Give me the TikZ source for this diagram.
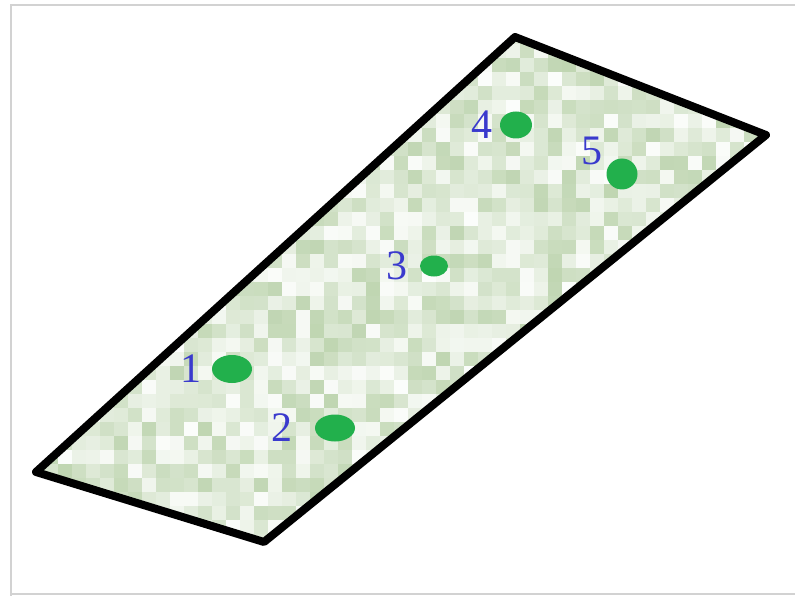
\documentclass[tikz,border=0pt]{standalone}
\usepackage{fontspec}
\setmainfont{Liberation Serif}
\usepackage{xcolor}
\usepackage{tikz}
\usetikzlibrary{shapes,positioning,calc}

\definecolor{moss}{RGB}{140,180,115}
\definecolor{dotgreen}{RGB}{34,176,76}
\definecolor{numblue}{RGB}{58,58,205}

\begin{document}
\begin{tikzpicture}[x=1pt, y=-1pt, every node/.style={font=\fontsize{42}{42}\selectfont}]
  \tikzset{
    plate/.style={draw=black, line width=8pt, line join=round},
    spot/.style={ellipse, fill=dotgreen, inner sep=0pt},
    num/.style={text=numblue, inner sep=0pt},
    frame/.style={draw=gray!35, line width=1.5pt}
  }
  \useasboundingbox (0,0) rectangle (795,596);

  % frame
  \draw[frame] (11,596) -- (11,5) -- (795,5);
  \draw[frame] (11,594) -- (795,594);

  % corners of the plate
  \coordinate (top) at (515,37);
  \coordinate (rgt) at (766,135);
  \coordinate (bot) at (264,542);
  \coordinate (lft) at (36,472);

  % mottled fill
  \pgfmathsetseed{17}
  \begin{scope}
    \clip (top) -- (rgt) -- (bot) -- (lft) -- cycle;
    \foreach \i in {0,...,53} {
      \foreach \j in {0,...,37} {
        \pgfmathrandominteger{\t}{3}{55}
        \fill[moss!\t!white] (30+\i*14,30+\j*14) rectangle ++(14.5,14.5);
      }
    }
  \end{scope}
  \draw[plate] (top) -- (rgt) -- (bot) -- (lft) -- cycle;

  % spots
  \node[spot, minimum width=40pt, minimum height=28pt] (d1) at (232,369) {};
  \node[spot, minimum width=40pt, minimum height=27pt] (d2) at (335,428) {};
  \node[spot, minimum width=28pt, minimum height=21pt] (d3) at (434,266) {};
  \node[spot, minimum width=32pt, minimum height=27pt] (d4) at (516,125) {};
  \node[spot, minimum width=31pt, minimum height=31pt] (d5) at (622,174) {};

  % numbers
  \node[num, left=10pt of d1] (n1) {1};
  \node[num, left=22pt of d2] (n2) {2};
  \node[num, left=12pt of d3] (n3) {3};
  \node[num, left=7pt of d4] (n4) {4};
  \node[num, left=4pt of d5, yshift=23pt] (n5) {5};
\end{tikzpicture}
\end{document}
